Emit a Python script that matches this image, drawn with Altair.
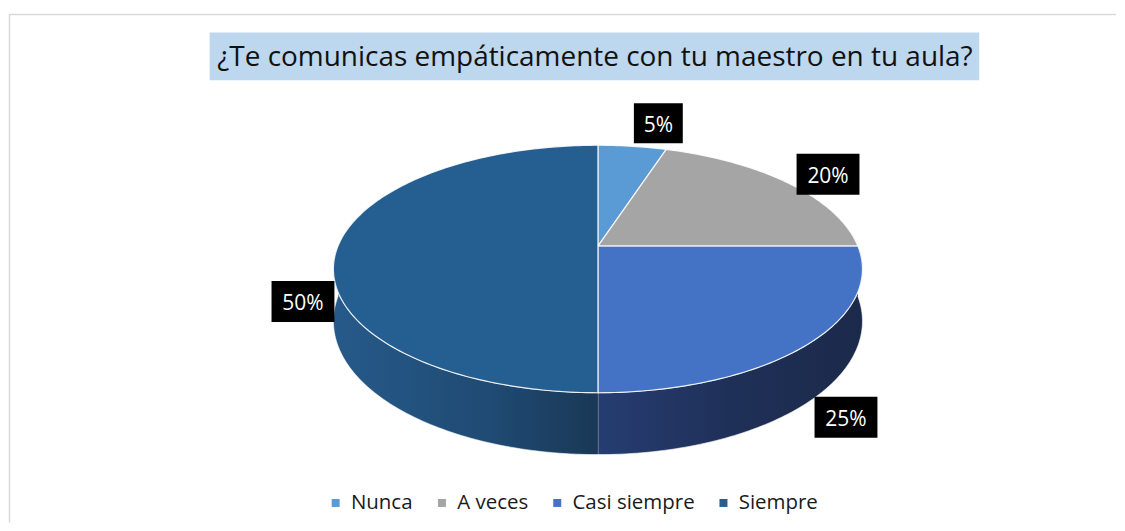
import math
import numpy as np
import pandas as pd
import altair as alt

# ---- data ----
categories = ["Nunca", "A veces", "Casi siempre", "Siempre"]
values = [5, 20, 25, 50]
colors = ["#5B9BD5", "#A5A5A5", "#4472C4", "#255E91"]
label_text = ["5%", "20%", "25%", "50%"]
title = "¿Te comunicas empáticamente con tu maestro en tu aula?"

# ---- layout (screen px) ----
label_x = [658.5, 828.5, 846.5, 302.5]
label_y = [123, 174, 417.5, 301.5]
CX, CY = 598, 246            # projected pie centre
A, B, K, D = 260.4, 119.7, 0.1855, 50.5   # radii, perspective, depth
W, H = 1109, 515
FONT = "Open Sans"

total = sum(values)
ends = np.cumsum(values) / total * 360.0
starts = ends - np.array(values) / total * 360.0


def arc(a0, a1):
    n = max(2, int(math.ceil(abs(a1 - a0))) + 1)
    return np.linspace(a0, a1, n)


rows = []
for cat, s, e in zip(categories, starts, ends):
    o = 0
    rows.append(dict(cat=cat, part="top", ord=o, ang=s, r=0, dep=0)); o += 1
    for a in arc(s, e):
        rows.append(dict(cat=cat, part="top", ord=o, ang=a, r=1, dep=0)); o += 1
    rows.append(dict(cat=cat, part="top", ord=o, ang=e, r=0, dep=0))
    a1, a2 = max(s, 90.0), min(e, 270.0)
    if a1 < a2:
        o = 0
        for a in arc(a1, a2):
            rows.append(dict(cat=cat, part="side", ord=o, ang=a, r=1, dep=0)); o += 1
        for a in arc(a2, a1):
            rows.append(dict(cat=cat, part="side", ord=o, ang=a, r=1, dep=1)); o += 1
geo = pd.DataFrame(rows)

xs = alt.Scale(domain=[8, 8 + W], nice=False, zero=False)
ys = alt.Scale(domain=[8, 8 + H], reverse=True, nice=False, zero=False)
X = alt.X("X:Q", scale=xs, axis=None)
Y = alt.Y("Y:Q", scale=ys, axis=None)

proj = [
    ("u", "datum.r*sin(datum.ang*PI/180)"),
    ("v", "datum.r*cos(datum.ang*PI/180)"),
    ("w", f"1+{K}*datum.v"),
    ("X", f"{CX}+{A}*datum.u/datum.w"),
    ("Y", f"{CY}-{B}*datum.v/datum.w+{D}*datum.dep/datum.w"),
]


def projected(chart):
    for name, expr in proj:
        chart = chart.transform_calculate(**{name: expr})
    return chart


base = alt.Chart(geo)

side_fill = {
    "Casi siempre": alt.Gradient(
        gradient="linear", x1=0, x2=1, y1=0, y2=0,
        stops=[alt.GradientStop(color="#263D72", offset=0),
               alt.GradientStop(color="#1F3058", offset=0.5),
               alt.GradientStop(color="#1B2A4A", offset=1)]),
    "Siempre": alt.Gradient(
        gradient="linear", x1=0, x2=1, y1=0, y2=0,
        stops=[alt.GradientStop(color="#265A8A", offset=0),
               alt.GradientStop(color="#1F4A73", offset=0.6),
               alt.GradientStop(color="#1A3856", offset=1)]),
}

# legend driver (hidden under the pie)
leg_df = pd.DataFrame({"cat": categories, "X": [CX] * 4, "Y": [CY] * 4})
legend_layer = alt.Chart(leg_df).mark_square(size=1, opacity=1, filled=True).encode(
    x=X, y=Y,
    color=alt.Color("cat:N", scale=alt.Scale(domain=categories, range=colors),
                    sort=categories,
                    legend=alt.Legend(orient="none", legendX=317, legendY=485,
                                      direction="horizontal", title=None,
                                      symbolType="square", symbolSize=64,
                                      symbolStrokeWidth=0, labelFont=FONT,
                                      labelFontSize=20.5, labelColor="#1a1a1a",
                                      labelOffset=5, columnPadding=18.5, padding=0)),
)

side_layers = []
for cat, g in side_fill.items():
    side_layers.append(
        projected(base.transform_filter(
            (alt.datum.part == "side") & (alt.datum.cat == cat)))
        .mark_line(fill=g, stroke="#FFFFFF", strokeWidth=0.8, strokeOpacity=0.75,
                   interpolate="linear")
        .encode(x=X, y=Y, order="ord:Q")
    )

tops = (
    projected(base.transform_filter(alt.datum.part == "top"))
    .mark_line(stroke="#FFFFFF", strokeWidth=1.2, strokeOpacity=0.85,
               interpolate="linear")
    .encode(
        x=X, y=Y, order="ord:Q", detail="cat:N",
        fill=alt.Fill("cat:N", scale=alt.Scale(domain=categories, range=colors),
                      legend=None),
    )
)

lab_df = pd.DataFrame({"cat": categories, "value": values, "text": label_text,
                       "X": label_x, "Y": label_y})
narrow = "M-24.5,-20H24.5V20H-24.5Z"
wide = "M-31.5,-20.5H31.5V20.5H-31.5Z"
boxes = alt.Chart(lab_df).mark_point(filled=True, fill="#000000", size=4,
                                     opacity=1, strokeWidth=0).encode(
    x=X, y=Y,
    shape=alt.when(alt.datum.value < 10).then(alt.value(narrow)).otherwise(alt.value(wide)),
)
texts = alt.Chart(lab_df).mark_text(font=FONT, fontSize=21, color="#FFFFFF",
                                    baseline="alphabetic", align="center",
                                    dy=8.5).encode(x=X, y=Y, text="text:N")

one = pd.DataFrame({"k": [0]})
border_top = alt.Chart(one).mark_rule(color="#D9D9D9", strokeWidth=1.5).encode(
    x=alt.value(0), x2=alt.value(W), y=alt.value(6))
border_left = alt.Chart(one).mark_rule(color="#D9D9D9", strokeWidth=1.5).encode(
    x=alt.value(0.5), y=alt.value(6), y2=alt.value(H))
title_box = alt.Chart(one).mark_rect(fill="#BDD7EE").encode(
    x=alt.value(201), x2=alt.value(972), y=alt.value(24), y2=alt.value(72))
title_text = alt.Chart(one).mark_text(font=FONT, fontSize=28, color="#111111",
                                      baseline="alphabetic", align="center").encode(
    x=alt.value(587), y=alt.value(58), text=alt.value(title))

chart = alt.layer(
    border_top, border_left, title_box, title_text,
    legend_layer, *side_layers, tops, boxes, texts,
).properties(width=W, height=H, padding=0, background="white").configure_view(stroke=None)

chart.save("out.html", embed_options={"renderer": "svg", "actions": False})
